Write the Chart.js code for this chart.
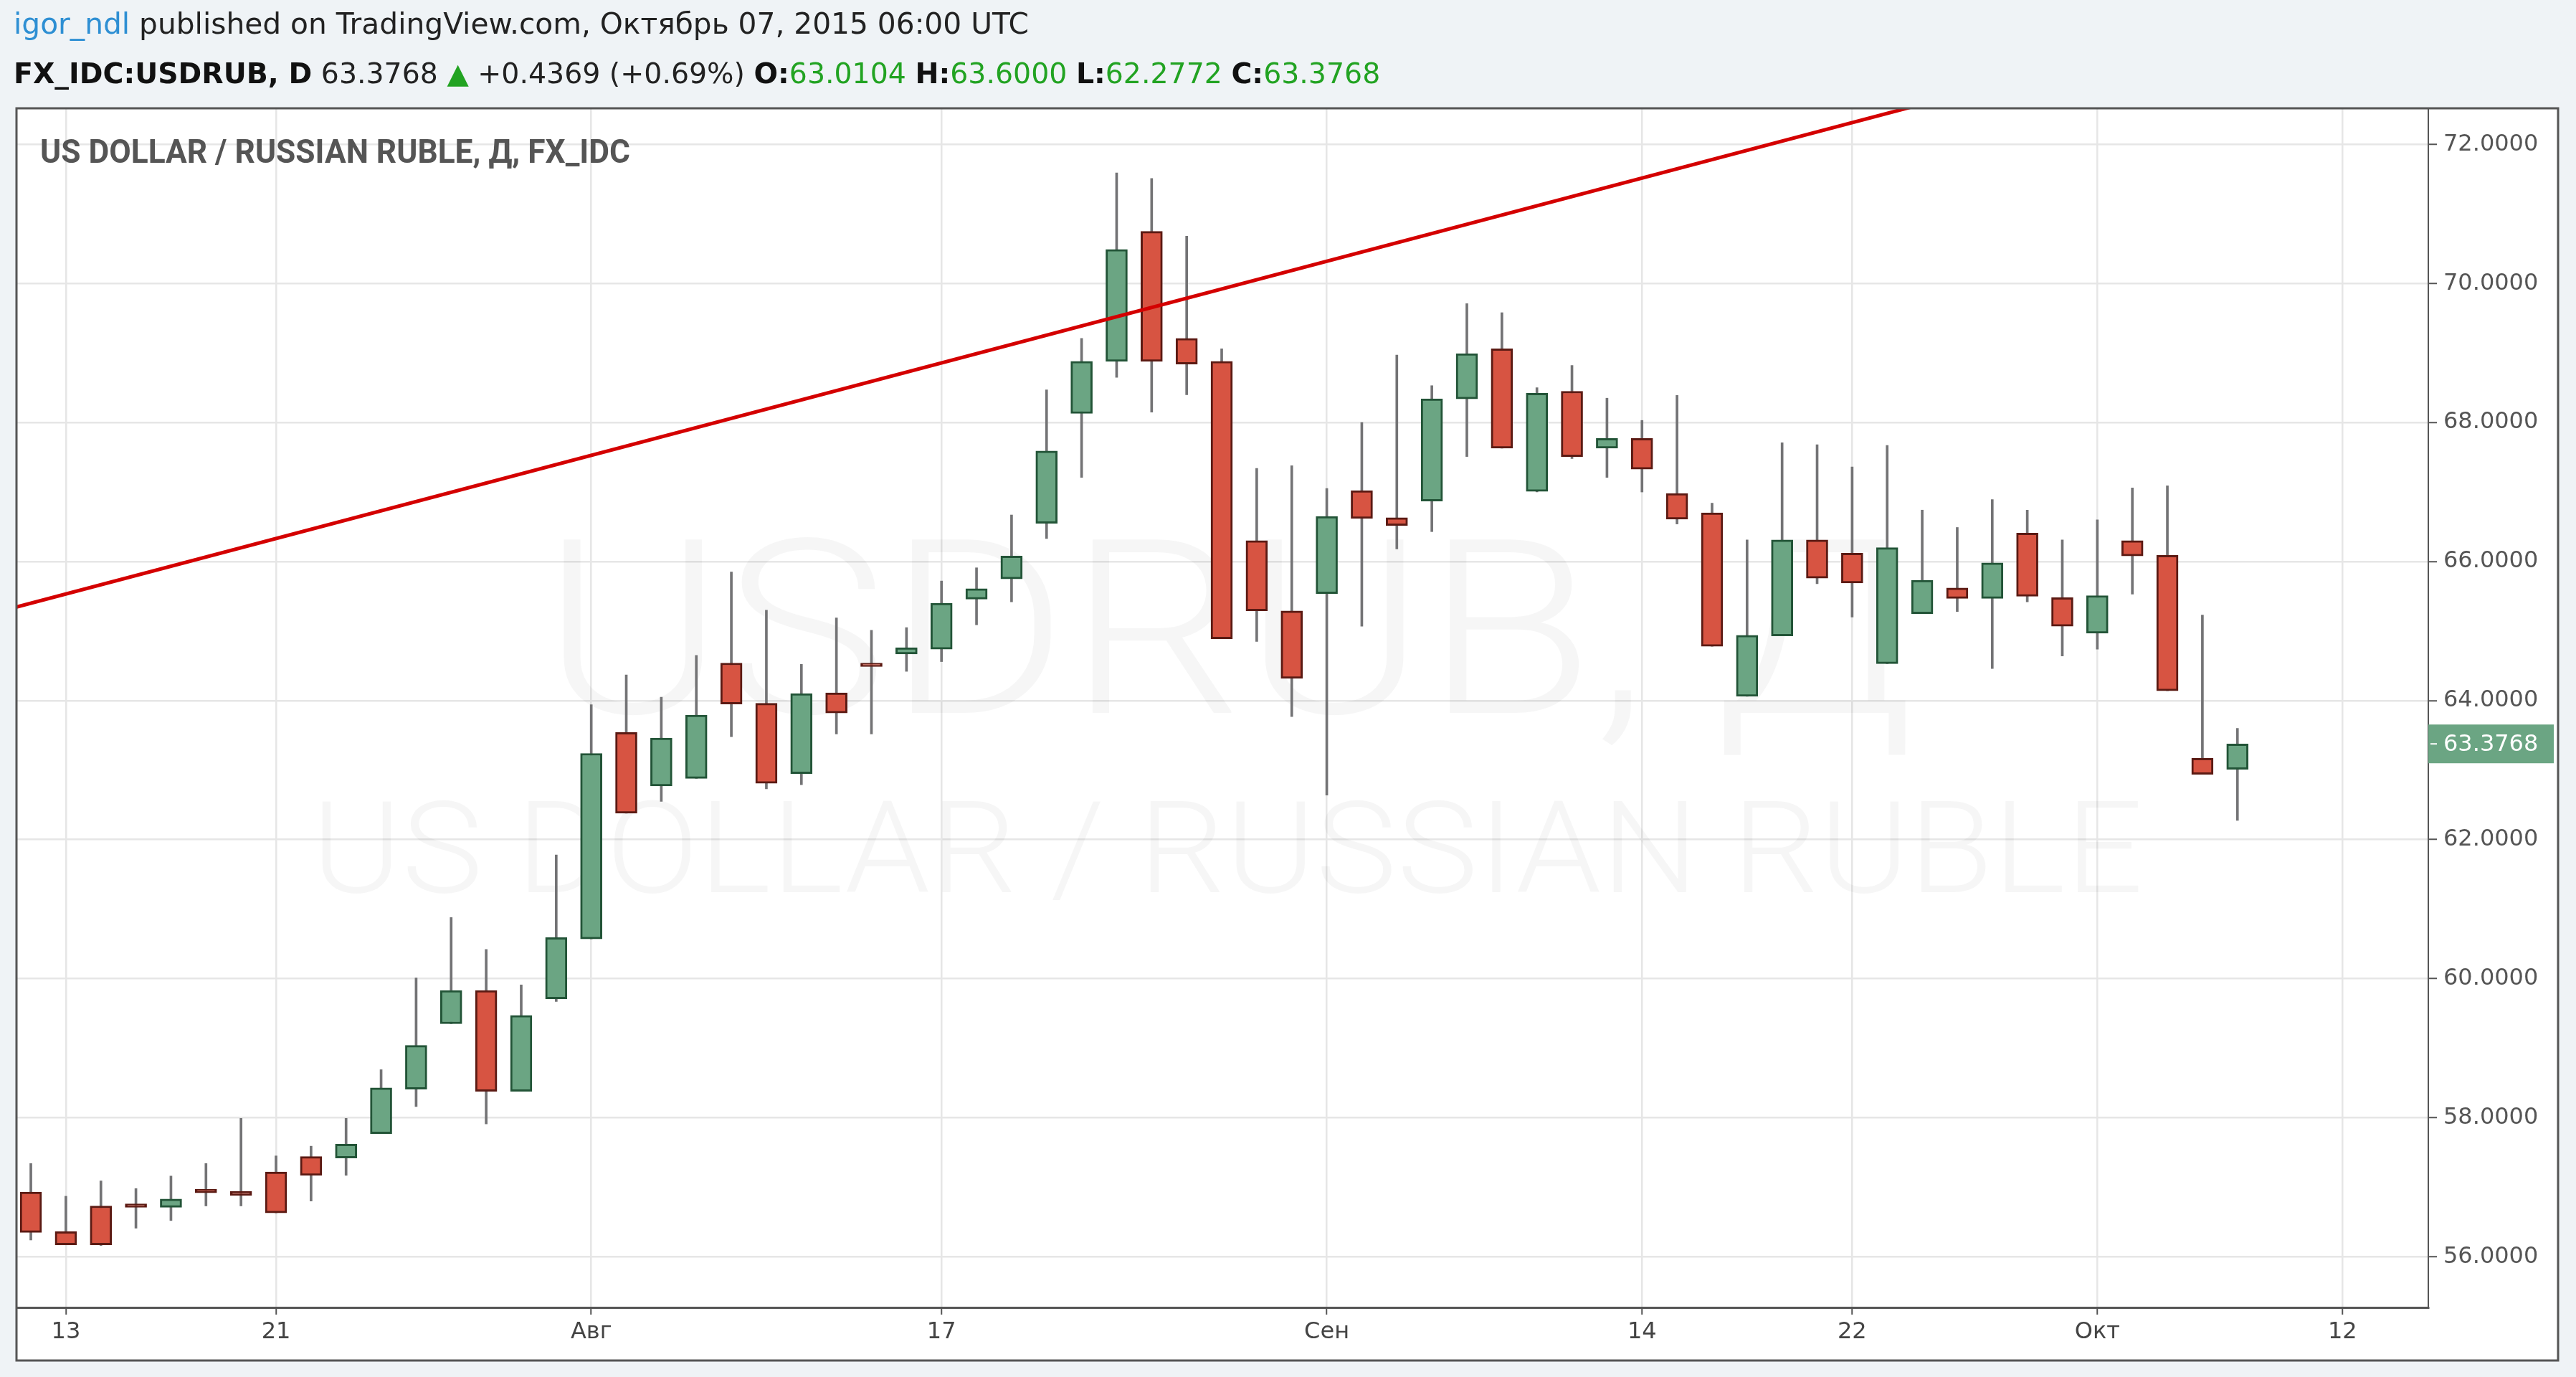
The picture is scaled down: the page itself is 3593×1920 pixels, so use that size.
<!DOCTYPE html>
<html>
<head>
<meta charset="utf-8">
<title>USDRUB</title>
<script src="https://cdn.jsdelivr.net/npm/chart.js@4.4.0/dist/chart.umd.min.js"></script>
<style>
  html, body { margin: 0; padding: 0; background: #eff3f6; overflow: hidden; }
  #wrap { position: relative; width: 3593px; height: 1920px; }
  #chart { position: absolute; left: 0; top: 0; }
  .hdr { position: absolute; left: 19px; white-space: nowrap; font-family: 'DejaVu Sans', sans-serif; font-size: 36px; line-height: 36px; color: #222; }
  .user { color: #2e8fd3; }
  .b { font-weight: bold; color: #111; }
  .g { color: #22a322; }
</style>
</head>
<body>
<div id="wrap">
  <canvas id="chart" width="3593" height="1920"></canvas>
  <div class="hdr" id="line1"><span class="user">igor_ndl</span> published on TradingView.com, Октябрь 07, 2015 06:00 UTC</div>
  <div class="hdr" id="line2"><span class="b">FX_IDC:USDRUB, D</span> 63.3768 <span class="g">▲</span> +0.4369 (+0.69%) <span class="b">O:</span><span class="g">63.0104</span> <span class="b">H:</span><span class="g">63.6000</span> <span class="b">L:</span><span class="g">62.2772</span> <span class="b">C:</span><span class="g">63.3768</span></div>
</div>
<script>
// daily bars, Jul 10 - Oct 7 2015 (weekdays)
const dates = [
  '2015-07-10',
  '2015-07-13', '2015-07-14', '2015-07-15', '2015-07-16', '2015-07-17',
  '2015-07-20', '2015-07-21', '2015-07-22', '2015-07-23', '2015-07-24',
  '2015-07-27', '2015-07-28', '2015-07-29', '2015-07-30', '2015-07-31',
  '2015-08-03', '2015-08-04', '2015-08-05', '2015-08-06', '2015-08-07',
  '2015-08-10', '2015-08-11', '2015-08-12', '2015-08-13', '2015-08-14',
  '2015-08-17', '2015-08-18', '2015-08-19', '2015-08-20', '2015-08-21',
  '2015-08-24', '2015-08-25', '2015-08-26', '2015-08-27', '2015-08-28',
  '2015-08-31', '2015-09-01', '2015-09-02', '2015-09-03', '2015-09-04',
  '2015-09-07', '2015-09-08', '2015-09-09', '2015-09-10', '2015-09-11',
  '2015-09-14', '2015-09-15', '2015-09-16', '2015-09-17', '2015-09-18',
  '2015-09-21', '2015-09-22', '2015-09-23', '2015-09-24', '2015-09-25',
  '2015-09-28', '2015-09-29', '2015-09-30', '2015-10-01', '2015-10-02',
  '2015-10-05', '2015-10-06', '2015-10-07'
];
const open = [
  56.93, 56.36, 56.73, 56.76, 56.71, 56.97, 56.94, 57.22, 57.44, 57.42,
  57.77, 58.41, 59.35, 59.83, 58.38, 59.71, 60.57, 63.54, 62.77, 62.88,
  64.54, 63.96, 62.95, 64.11, 64.54, 64.67, 64.74, 65.46, 65.75, 66.55,
  68.13, 68.88, 70.75, 69.21, 68.88, 66.30, 65.29, 65.54, 67.02, 66.63,
  66.87, 68.34, 69.06, 67.01, 68.45, 67.63, 67.77, 66.98, 66.70, 64.06,
  64.93, 66.31, 66.12, 64.53, 65.25, 65.62, 65.47, 66.41, 65.48, 64.97,
  66.30, 66.09, 63.17, 63.0104
];
const high = [
  57.34, 56.87, 57.09, 56.98, 57.16, 57.34, 57.99, 57.45, 57.59, 57.99,
  58.69, 60.01, 60.88, 60.42, 59.91, 61.78, 63.94, 64.37, 64.05, 64.65,
  65.85, 65.30, 64.52, 65.19, 65.01, 65.05, 65.72, 65.91, 66.67, 68.47,
  69.21, 71.59, 71.51, 70.68, 69.06, 67.34, 67.38, 67.05, 68.00, 68.97,
  68.53, 69.71, 69.58, 68.50, 68.82, 68.35, 68.03, 68.39, 66.84, 66.31,
  67.71, 67.68, 67.36, 67.67, 66.74, 66.49, 66.89, 66.74, 66.31, 66.60,
  67.06, 67.09, 65.23, 63.60
];
const low = [
  56.24, 56.17, 56.16, 56.41, 56.52, 56.73, 56.73, 56.63, 56.80, 57.17,
  57.77, 58.16, 59.35, 57.91, 58.38, 59.67, 60.57, 62.38, 62.55, 62.88,
  63.48, 62.73, 62.79, 63.52, 63.52, 64.42, 64.56, 65.09, 65.42, 66.33,
  67.21, 68.65, 68.15, 68.40, 64.89, 64.85, 63.77, 62.64, 65.07, 66.18,
  66.43, 67.51, 67.63, 67.00, 67.48, 67.21, 67.00, 66.54, 64.78, 64.06,
  64.93, 65.68, 65.20, 64.53, 65.25, 65.28, 64.46, 65.42, 64.64, 64.74,
  65.53, 64.14, 62.94, 62.2772
];
const close = [
  56.35, 56.17, 56.17, 56.71, 56.83, 56.92, 56.88, 56.63, 57.17, 57.62,
  58.43, 59.04, 59.83, 58.38, 59.47, 60.59, 63.24, 62.38, 63.46, 63.79,
  63.95, 62.81, 64.10, 63.82, 64.49, 64.76, 65.40, 65.61, 66.08, 67.59,
  68.88, 70.49, 68.88, 68.84, 64.89, 65.29, 64.32, 66.65, 66.62, 66.52,
  68.34, 68.99, 67.63, 68.42, 67.51, 67.77, 67.33, 66.61, 64.78, 64.94,
  66.31, 65.76, 65.69, 66.20, 65.73, 65.47, 65.98, 65.50, 65.07, 65.51,
  66.08, 64.14, 62.94, 63.3768
];
const firstIndex = -1;   // Jul 10 sits one bar left of the "13" tick

// time axis: bar index of each label
const tickIdx = [0, 6, 15, 25, 36, 45, 51, 58, 65];
const tickLabels = ['13', '21', 'Авг', '17', 'Сен', '14', '22', 'Окт', '12'];
const priceTicks = [56, 58, 60, 62, 64, 66, 68, 70, 72];

// drawn trend line (bar index, price)
const trendX = [-1.45, 52.7];
const trendY = [65.34, 72.54];

const xRange = [-1.41, 67.45];
const yRange = [55.27, 72.52];

const UP = '#6ba583', UP_BORDER = '#225437';
const DOWN = '#d75442', DOWN_BORDER = '#5b1a13';
const AXIS_FONT = { family: 'DejaVu Sans', size: 32 };

// header lines: fit to the original width, keep baseline
function fitLine(id, left, baseline, targetW) {
  const el = document.getElementById(id);
  const w = el.getBoundingClientRect().width;
  const fs = 36 * targetW / w;
  el.style.fontSize = fs + 'px';
  el.style.lineHeight = fs + 'px';
  el.style.left = left + 'px';
  el.style.top = (baseline - 0.846 * fs) + 'px';
}
fitLine('line1', 19, 47, 1416);
fitLine('line2', 19, 116, 1907);

function fitText(ctx, text, x, y, w, align) {
  const m = ctx.measureText(text).width;
  ctx.save();
  ctx.translate(x, y);
  ctx.scale(w / m, 1);
  ctx.textAlign = align;
  ctx.fillText(text, 0, 0);
  ctx.restore();
}

const decor = {
  id: 'decor',
  beforeDraw(chart) {
    const ctx = chart.ctx, a = chart.chartArea;
    ctx.save();
    ctx.fillStyle = '#eff3f6';
    ctx.fillRect(0, 0, chart.width, chart.height);
    ctx.fillStyle = '#ffffff';
    ctx.fillRect(a.left, a.top, chart.width - 25 - a.left, chart.height - 23 - a.top);
    ctx.restore();
  },
  beforeDatasetsDraw(chart) {
    const ctx = chart.ctx, a = chart.chartArea;
    const cx = (a.left + a.right) / 2;
    ctx.save();
    ctx.textBaseline = 'alphabetic';
    // watermark
    ctx.fillStyle = 'rgba(0,0,0,0.035)';
    ctx.font = '300 340px Roboto';
    fitText(ctx, 'USDRUB, Д', cx + 8, a.top + 843, 1914, 'center');
    ctx.font = '300 178px Roboto';
    fitText(ctx, 'US DOLLAR / RUSSIAN RUBLE', cx + 7, a.top + 1093, 2555, 'center');
    // title
    ctx.fillStyle = '#555';
    ctx.font = 'bold 46px Roboto';
    fitText(ctx, 'US DOLLAR / RUSSIAN RUBLE, Д, FX_IDC', a.left + 33, a.top + 76, 823, 'left');
    ctx.restore();
  },
  afterDraw(chart) {
    const ctx = chart.ctx, a = chart.chartArea, y = chart.scales.y;
    const last = close[close.length - 1];
    const py = y.getPixelForValue(last);
    ctx.save();
    ctx.fillStyle = UP;
    ctx.fillRect(a.right, py - 27, 175, 54);
    ctx.strokeStyle = '#ffffff';
    ctx.lineWidth = 2;
    ctx.beginPath();
    ctx.moveTo(a.right + 3, py);
    ctx.lineTo(a.right + 12, py);
    ctx.stroke();
    ctx.fillStyle = '#ffffff';
    ctx.font = '32px "DejaVu Sans"';
    ctx.textBaseline = 'middle';
    ctx.textAlign = 'left';
    ctx.fillText(last.toFixed(4), a.right + 21, py + 1);
    // outer frame
    ctx.strokeStyle = '#555';
    ctx.lineWidth = 3;
    ctx.strokeRect(a.left, a.top, chart.width - 25 - a.left, chart.height - 23 - a.top);
    ctx.restore();
  }
};

const bodies = dates.map((d, i) => ({ x: i + firstIndex, y: [open[i], close[i]] }));
const wicks = dates.map((d, i) => ({ x: i + firstIndex, y: [low[i], high[i]] }));
const isUp = close.map((c, i) => c >= open[i]);

new Chart(document.getElementById('chart'), {
  type: 'bar',
  data: {
    datasets: [
      {
        type: 'line',
        data: trendX.map((x, i) => ({ x: x, y: trendY[i] })),
        borderColor: '#d40000',
        borderWidth: 5,
        pointRadius: 0,
        fill: false,
        clip: 0,
        order: -1
      },
      {
        data: bodies,
        backgroundColor: isUp.map(u => u ? UP : DOWN),
        borderColor: isUp.map(u => u ? UP_BORDER : DOWN_BORDER),
        borderWidth: 3,
        borderSkipped: false,
        barThickness: 30,
        grouped: false,
        order: 0
      },
      {
        data: wicks,
        backgroundColor: '#737375',
        borderWidth: 0,
        barThickness: 3,
        grouped: false,
        order: 1
      }
    ]
  },
  options: {
    responsive: false,
    animation: false,
    devicePixelRatio: 1,
    layout: { padding: { left: 23, top: 151, right: 25, bottom: 23 } },
    plugins: { legend: { display: false }, tooltip: { enabled: false } },
    scales: {
      x: {
        type: 'linear',
        min: xRange[0],
        max: xRange[1],
        offset: false,
        afterBuildTicks: s => { s.ticks = tickIdx.map(v => ({ value: v })); },
        afterFit: s => { s.height = 74; },
        grid: { offset: false, color: '#e6e6e6', lineWidth: 2.5, tickLength: 10, tickColor: '#555', tickWidth: 2 },
        border: { color: '#555', width: 3 },
        ticks: {
          autoSkip: false,
          maxRotation: 0,
          font: AXIS_FONT,
          color: '#444',
          padding: 5,
          callback: v => tickLabels[tickIdx.indexOf(v)]
        }
      },
      y: {
        type: 'linear',
        position: 'right',
        min: yRange[0],
        max: yRange[1],
        afterBuildTicks: s => { s.ticks = priceTicks.map(v => ({ value: v })); },
        afterFit: s => { s.width = 181; },
        grid: { color: '#e6e6e6', lineWidth: 2.5, tickLength: 12, tickColor: '#555', tickWidth: 2 },
        border: { color: '#555', width: 2 },
        ticks: {
          font: AXIS_FONT,
          color: '#555',
          padding: 9,
          callback: v => v.toFixed(4)
        }
      }
    }
  },
  plugins: [decor]
});
</script>
</body>
</html>
